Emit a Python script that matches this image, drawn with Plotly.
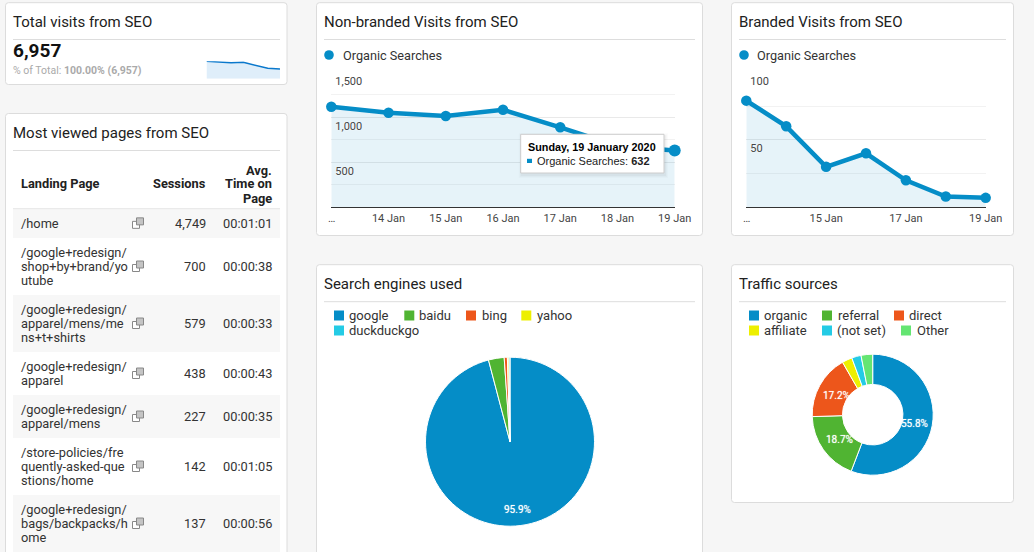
import plotly.graph_objects as go

W = 1034
H = 552
BLUE = "#058dc7"
COLORS = ["#058dc7", "#50b432", "#ed561b", "#edef00", "#24cbe5", "#64e572"]
FONT = "Roboto"

days = ["2020-01-13", "2020-01-14", "2020-01-15", "2020-01-16", "2020-01-17", "2020-01-18", "2020-01-19"]
non_branded = [1118, 1051, 1014, 1084, 889, 681, 632]
branded = [79, 60, 30, 40, 20, 8, 7]
total = [1210, 1164, 1117, 1140, 931, 721, 675]

engines = {"google": 95.9, "baidu": 3.0, "bing": 0.6, "yahoo": 0.3, "duckduckgo": 0.2}
sources = {"organic": 55.8, "referral": 18.7, "direct": 17.2, "affiliate": 2.7, "(not set)": 2.5, "Other": 3.1}

pages = [
    (["/home"], "4,749", "00:01:01", 208.7, 238),
    (["/google+redesign/", "shop+by+brand/yo", "utube"], "700", "00:00:38", 238, 295),
    (["/google+redesign/", "apparel/mens/me", "ns+t+shirts"], "579", "00:00:33", 295, 352),
    (["/google+redesign/", "apparel"], "438", "00:00:43", 352, 395),
    (["/google+redesign/", "apparel/mens"], "227", "00:00:35", 395, 438),
    (["/store-policies/fre", "quently-asked-que", "stions/home"], "142", "00:01:05", 438, 495),
    (["/google+redesign/", "bags/backpacks/h", "ome"], "137", "00:00:56", 495, 552),
]


def px(x):
    return x / W


def py(y):
    return 1 - y / H


shapes = []
annotations = []


def text(x, y, s, size=13, color="#333333", anchor="left", bold=False, family=FONT):
    if bold:
        s = "<b>" + s + "</b>"
    # annotations keep a 1px inset around their text
    shift = {"left": -1, "right": 1, "center": 0}[anchor]
    annotations.append(dict(x=px(x), y=py(y), xref="paper", yref="paper", text=s, showarrow=False,
                            xanchor=anchor, yanchor="middle", align=anchor, xshift=shift, borderpad=0,
                            font=dict(family=family, size=size, color=color)))


def rect(x0, y0, x1, y1, fill, line=None, width=1, layer="above"):
    shapes.append(dict(type="rect", xref="paper", yref="paper", x0=px(x0), x1=px(x1), y0=py(y0), y1=py(y1),
                       fillcolor=fill, line=dict(color=line, width=width if line else 0), layer=layer))


def hline(x0, x1, y, color="#dddddd"):
    shapes.append(dict(type="line", xref="paper", yref="paper", x0=px(x0), x1=px(x1), y0=py(y), y1=py(y),
                       line=dict(color=color, width=1), layer="below"))


def card(x0, y0, x1, y1, title, rule_x0, rule_x1, rule_y):
    r = 3
    path = "M %f,%f L %f,%f Q %f,%f %f,%f L %f,%f Q %f,%f %f,%f L %f,%f Q %f,%f %f,%f L %f,%f Q %f,%f %f,%f Z" % (
        px(x0 + r), py(y0), px(x1 - r), py(y0), px(x1), py(y0), px(x1), py(y0 + r),
        px(x1), py(y1 - r), px(x1), py(y1), px(x1 - r), py(y1),
        px(x0 + r), py(y1), px(x0), py(y1), px(x0), py(y1 - r),
        px(x0), py(y0 + r), px(x0), py(y0), px(x0 + r), py(y0))
    shapes.append(dict(type="path", xref="paper", yref="paper", path=path, fillcolor="white",
                       line=dict(color="#dcdcdc", width=1), layer="below"))
    hline(rule_x0, rule_x1, rule_y)
    text(rule_x0, rule_y - 18, title, size=15, color="#212121")


card(5.5, 2.7, 287, 84.5, "Total visits from SEO", 13, 280, 39.5)
card(5.5, 113.5, 287, 570, "Most viewed pages from SEO", 13, 280, 150.5)
card(316.5, 2.7, 702.5, 235.5, "Non-branded Visits from SEO", 324, 695, 39.5)
card(731.5, 2.7, 1013.5, 235.5, "Branded Visits from SEO", 739, 1006, 39.5)
card(316.5, 264.7, 702.5, 570, "Search engines used", 324, 695, 301.7)
card(731.5, 264.7, 1013.5, 502.5, "Traffic sources", 739, 1006, 301.7)

# scorecard
text(13, 51, "6,957", size=19, color="#111111", bold=True)
text(13, 70.5, "% of Total: <b>100.00% (6,957)</b>", size=10.5, color="#aaaaaa")

# table
text(21, 183.5, "Landing Page", size=12.8, color="#212121", bold=True)
text(206, 183.5, "Sessions", size=12.8, color="#212121", anchor="right", bold=True)
for y, s in zip([170, 184, 198], ["Avg.", "Time on", "Page"]):
    text(272, y, s, size=12.8, color="#212121", anchor="right", bold=True)
for i, (lines, sessions, avg_time, top, bottom) in enumerate(pages):
    if i % 2 == 0:
        rect(13, top, 280, bottom, "#f7f7f7", layer="below")
    mid = (top + bottom) / 2
    start = mid - 14 * (len(lines) - 1) / 2
    for j, line in enumerate(lines):
        text(21, start + 14 * j, line, size=12.8)
    text(206, mid, sessions, size=12.8, anchor="right")
    text(272, mid, avg_time, size=12.8, anchor="right")
    # open-in-new-window icon
    rect(132.5, mid - 2, 139.5, mid + 5, "#ffffff", line="#888888")
    rect(136.5, mid - 5.5, 143.5, mid + 1.5, "#c4c4c4", line="#888888")
hline(13, 280, 208.7, "#e6e6e6")

# legends
for x_dot, x_txt in [(329, 342.5), (744, 757.5)]:
    shapes.append(dict(type="circle", xref="paper", yref="paper", x0=px(x_dot - 4.8), x1=px(x_dot + 4.8),
                       y0=py(55 - 4.8), y1=py(55 + 4.8), fillcolor=BLUE, line=dict(width=0)))
    text(x_txt, 55.5, "Organic Searches", size=12.7)

engine_legend = [(334, 349, 315.5), (404.3, 419.3, 315.5), (466, 481.7, 315.5), (521.3, 536.7, 315.5), (334, 349, 330.5)]
for (name, pos, color) in zip(engines, engine_legend, COLORS):
    rect(pos[0], pos[2] - 5, pos[0] + 10, pos[2] + 5, color)
    text(pos[1], pos[2], name, size=13)

source_legend = [(749, 764.3, 315.5), (822, 837.7, 315.5), (894, 909.3, 315.5),
                 (749, 764.3, 330.5), (822, 837.3, 330.5), (901, 916.5, 330.5)]
for (name, pos, color) in zip(sources, source_legend, COLORS):
    rect(pos[0], pos[2] - 5, pos[0] + 10, pos[2] + 5, color)
    text(pos[1], pos[2], name, size=13)

fig = go.Figure()


def line_trace(y, xaxis, yaxis, last_size=10.5):
    return go.Scatter(x=days, y=y, xaxis=xaxis, yaxis=yaxis, mode="lines+markers", fill="tozeroy",
                      fillcolor="rgba(5,141,199,0.1)", line=dict(color=BLUE, width=4.5),
                      marker=dict(color=BLUE, size=[10.5] * 6 + [last_size], line=dict(width=0), opacity=1),
                      cliponaxis=False, showlegend=False, hoverinfo="skip")


fig.add_trace(line_trace(non_branded, "x", "y", 12))
fig.add_trace(line_trace(branded, "x2", "y2"))
fig.add_trace(go.Scatter(x=days, y=total, xaxis="x3", yaxis="y3", mode="lines", fill="tozeroy",
                         fillcolor="#dfeefa", line=dict(color="#0a78cc", width=1.5),
                         showlegend=False, hoverinfo="skip"))


def pie_domain(cx, cy, r):
    return dict(x=[px(cx - r), px(cx + r)], y=[py(cy + r), py(cy - r)])


fig.add_trace(go.Pie(labels=list(engines), values=list(engines.values()), domain=pie_domain(510, 441.7, 84.5),
                     sort=False, direction="clockwise", rotation=0, hole=0, showlegend=False,
                     marker=dict(colors=COLORS, line=dict(color="white", width=1)),
                     textinfo="none", hoverinfo="skip"))
fig.add_trace(go.Pie(labels=list(sources), values=list(sources.values()), domain=pie_domain(872.7, 414.7, 60.5),
                     sort=False, direction="clockwise", rotation=0, hole=0.5, showlegend=False,
                     marker=dict(colors=COLORS, line=dict(color="white", width=1)),
                     textinfo="none", hoverinfo="skip"))

# slice labels sit where the reference puts them, not at the slice centroid
for x, y, s in [(517, 509.5, "95.9%"), (914, 423, "55.8%"), (839, 439, "18.7%"), (836.7, 395, "17.2%")]:
    text(x, y, s, size=10, color="white", anchor="center")
    annotations[-1]["font"]["shadow"] = "0 0 1px rgba(255,255,255,0.8)"

tick_font = dict(family=FONT, size=11, color="#444444")
grid = "#e9e9e9"
minor_grid = "#f2f2f2"

fig.update_layout(
    width=W, height=H,
    margin=dict(l=0, r=0, t=0, b=0, autoexpand=False),
    paper_bgcolor="#f6f6f6",
    plot_bgcolor="rgba(0,0,0,0)",
    showlegend=False,
    xaxis=dict(domain=[px(331.3), px(674.7)], range=["2020-01-13", "2020-01-19"], type="date", anchor="y",
               tickvals=days[1:], ticktext=["14 Jan", "15 Jan", "16 Jan", "17 Jan", "18 Jan", "19 Jan"],
               showgrid=False, showline=True, linecolor="#333333", linewidth=1, ticks="",
               tickfont=tick_font),
    yaxis=dict(domain=[py(207.3), py(72.3)], range=[0, 1500], anchor="x",
               tickvals=[500, 1000, 1500], ticktext=["500", "1,000", "1,500"], ticklabelposition="inside bottom",
               ticklabelstandoff=1, ticklabelshift=1, gridcolor=grid, zeroline=False, showline=False,
               tickfont=dict(tick_font, shadow="white 0px 0px 2px"),
               minor=dict(tickvals=[250, 750, 1250], showgrid=True, gridcolor=minor_grid, ticks="")),
    xaxis2=dict(domain=[px(746.3), px(985.7)], range=["2020-01-13", "2020-01-19"], type="date", anchor="y2",
                tickvals=["2020-01-15", "2020-01-17", "2020-01-19"],
                ticktext=["15 Jan", "17 Jan", "19 Jan"],
                showgrid=False, showline=True, linecolor="#333333", linewidth=1, ticks="",
                tickfont=tick_font),
    yaxis2=dict(domain=[py(207.3), py(72.3)], range=[0, 100], anchor="x2",
                tickvals=[50, 100], ticktext=["50", "100"], ticklabelposition="inside bottom",
                ticklabelstandoff=1, ticklabelshift=1, gridcolor=grid, zeroline=False, showline=False,
                tickfont=dict(tick_font, shadow="white 0px 0px 2px"),
                minor=dict(tickvals=[25, 75], showgrid=True, gridcolor=minor_grid, ticks="")),
    xaxis3=dict(domain=[px(206.5), px(280)], range=["2020-01-13", "2020-01-19"], type="date", anchor="y3",
                visible=False),
    yaxis3=dict(domain=[py(78.7), py(61.3)], range=[0, max(total)], anchor="x3", visible=False),
)

# first x label is cut to an ellipsis; inside y labels would hide it as a tick label
text(331.3, 218, "…", size=11, color="#444444", anchor="center")
text(746.3, 218, "…", size=11, color="#444444", anchor="center")

# tooltip on the last point of the non-branded chart
for grow, alpha in [(3, 0.015), (2, 0.02), (1, 0.03)]:
    rect(520.7 - grow + 1, 134.3 - grow + 2, 664 + grow + 1, 173 + grow + 2, "rgba(0,0,0,%s)" % alpha)
rect(520.7, 134.3, 664, 173, "white", line="#cccccc")
rect(527, 158.8, 532, 163, BLUE)
text(528, 146.5, "Sunday, 19 January 2020", size=10.8, color="#000000", bold=True, family="Liberation Sans")
text(536.7, 160.5, "Organic Searches: <b>632</b>", size=11, color="#222222", family="Liberation Sans")

fig.update_layout(shapes=shapes, annotations=annotations)
fig.write_html("out.html", config=dict(displayModeBar=False), post_script="document.body.style.margin='0';")
